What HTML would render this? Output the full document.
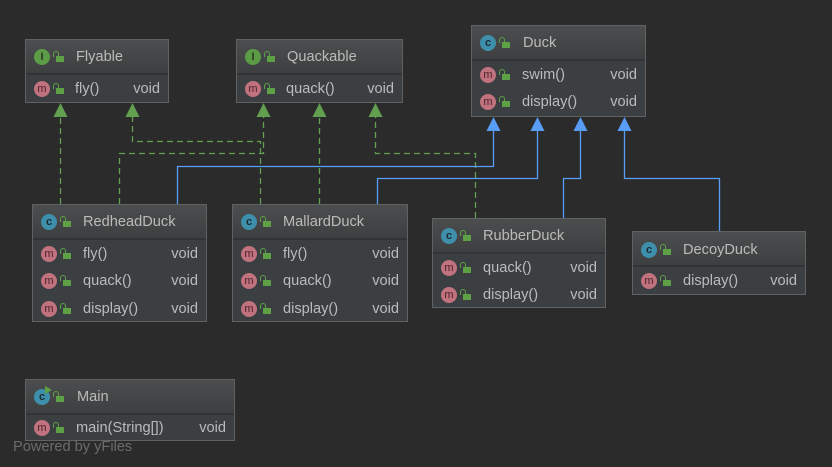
<!DOCTYPE html>
<html><head><meta charset="utf-8"><style>
body{margin:0;width:832px;height:467px;background:#2b2b2b;overflow:hidden;position:relative;font-family:"Liberation Sans","DejaVu Sans",sans-serif;}
.box{position:absolute;border:1px solid #5f6163;background:#3c3f41;box-sizing:border-box;}
.hd{height:33px;background:linear-gradient(#4b4d4e,#3e3f40);border-bottom:2px solid #313335;position:relative;}
.row{height:27px;position:relative;}
.body{padding-top:1px;}
.ic{position:absolute;width:16px;height:16px;border-radius:50%;color:#1f2b33;font-size:11px;line-height:16px;text-align:center;font-weight:bold;}
.c{background:#3e8fab;}
.i{background:#5c9c46;color:#2a3a22;}
.m{background:#c0727f;color:#4a2228;font-weight:normal;}
.lk{position:absolute;width:8px;height:6px;background:#5ea046;}
.lk:before{content:"";position:absolute;left:-3px;top:-5px;width:4px;height:5px;border:1.5px solid #5ea046;border-bottom:none;border-radius:3px 3px 0 0;}
.t{position:absolute;color:#bbbbbb;font-size:14.6px;}
.v{position:absolute;right:8px;color:#bbbbbb;font-size:14.6px;}
</style></head><body>
<svg width="832" height="467" style="position:absolute;left:0;top:0">
<g fill="none" stroke="#62a04f" stroke-width="1.3" stroke-dasharray="6,4">
<path d="M60.5 204V114"/>
<path d="M260.5 204V141.5H132.5V114"/>
<path d="M119.5 204V153.5H263.5V114"/>
<path d="M319.5 204V114"/>
<path d="M475.5 218V153.5H375.5V114"/>
</g>
<g fill="none" stroke="#589df6" stroke-width="1.3">
<path d="M177.5 204V166.5H493.5V128"/>
<path d="M377.5 204V178.5H537.5V128"/>
<path d="M563.5 218V178.5H580.5V128"/>
<path d="M719.5 232V178.5H624.5V128"/>
</g>
<g fill="#62a04f">
<path d="M60.5 103l-7 14h14z"/><path d="M132.5 103l-7 14h14z"/><path d="M263.5 103l-7 14h14z"/><path d="M319.5 103l-7 14h14z"/><path d="M375.5 103l-7 14h14z"/>
</g>
<g fill="#589df6">
<path d="M493.5 117l-7 14h14z"/><path d="M537.5 117l-7 14h14z"/><path d="M580.5 117l-7 14h14z"/><path d="M624.5 117l-7 14h14z"/>
</g>
</svg>

<div class="box" style="left:25px;top:39px;width:144px;height:64px">
<div class="hd"><div class="ic i" style="left:8px;top:9px">I</div><div class="lk" style="left:30px;top:16px"></div><div class="t" style="left:50px;top:9px">Flyable</div></div>
<div class="body"><div class="row"><div class="ic m" style="left:8px;top:5px">m</div><div class="lk" style="left:30px;top:12px"></div><div class="t" style="left:49px;top:5px">fly()</div><div class="v" style="top:5px">void</div></div></div>
</div>
<div class="box" style="left:236px;top:39px;width:167px;height:64px">
<div class="hd"><div class="ic i" style="left:8px;top:9px">I</div><div class="lk" style="left:30px;top:16px"></div><div class="t" style="left:50px;top:9px">Quackable</div></div>
<div class="body"><div class="row"><div class="ic m" style="left:8px;top:5px">m</div><div class="lk" style="left:30px;top:12px"></div><div class="t" style="left:49px;top:5px">quack()</div><div class="v" style="top:5px">void</div></div></div>
</div>
<div class="box" style="left:471px;top:25px;width:175px;height:92px">
<div class="hd"><div class="ic c" style="left:8px;top:9px">c</div><div class="lk" style="left:30px;top:16px"></div><div class="t" style="left:51px;top:9px">Duck</div></div>
<div class="body"><div class="row"><div class="ic m" style="left:8px;top:5px">m</div><div class="lk" style="left:30px;top:12px"></div><div class="t" style="left:50px;top:5px">swim()</div><div class="v" style="top:5px">void</div></div>
<div class="row"><div class="ic m" style="left:8px;top:5px">m</div><div class="lk" style="left:30px;top:12px"></div><div class="t" style="left:50px;top:5px">display()</div><div class="v" style="top:5px">void</div></div></div>
</div>
<div class="box" style="left:32px;top:204px;width:175px;height:118px">
<div class="hd"><div class="ic c" style="left:8px;top:9px">c</div><div class="lk" style="left:30px;top:16px"></div><div class="t" style="left:50px;top:9px">RedheadDuck</div></div>
<div class="body"><div class="row"><div class="ic m" style="left:8px;top:5px">m</div><div class="lk" style="left:30px;top:12px"></div><div class="t" style="left:50px;top:5px">fly()</div><div class="v" style="top:5px">void</div></div>
<div class="row"><div class="ic m" style="left:8px;top:5px">m</div><div class="lk" style="left:30px;top:12px"></div><div class="t" style="left:50px;top:5px">quack()</div><div class="v" style="top:5px">void</div></div>
<div class="row"><div class="ic m" style="left:8px;top:6px">m</div><div class="lk" style="left:30px;top:13px"></div><div class="t" style="left:50px;top:6px">display()</div><div class="v" style="top:6px">void</div></div></div>
</div>
<div class="box" style="left:232px;top:204px;width:176px;height:118px">
<div class="hd"><div class="ic c" style="left:8px;top:9px">c</div><div class="lk" style="left:30px;top:16px"></div><div class="t" style="left:50px;top:9px">MallardDuck</div></div>
<div class="body"><div class="row"><div class="ic m" style="left:8px;top:5px">m</div><div class="lk" style="left:30px;top:12px"></div><div class="t" style="left:50px;top:5px">fly()</div><div class="v" style="top:5px">void</div></div>
<div class="row"><div class="ic m" style="left:8px;top:5px">m</div><div class="lk" style="left:30px;top:12px"></div><div class="t" style="left:50px;top:5px">quack()</div><div class="v" style="top:5px">void</div></div>
<div class="row"><div class="ic m" style="left:8px;top:6px">m</div><div class="lk" style="left:30px;top:13px"></div><div class="t" style="left:50px;top:6px">display()</div><div class="v" style="top:6px">void</div></div></div>
</div>
<div class="box" style="left:432px;top:218px;width:174px;height:90px">
<div class="hd"><div class="ic c" style="left:8px;top:9px">c</div><div class="lk" style="left:30px;top:16px"></div><div class="t" style="left:50px;top:9px">RubberDuck</div></div>
<div class="body"><div class="row"><div class="ic m" style="left:8px;top:5px">m</div><div class="lk" style="left:30px;top:12px"></div><div class="t" style="left:50px;top:5px">quack()</div><div class="v" style="top:5px">void</div></div>
<div class="row"><div class="ic m" style="left:8px;top:5px">m</div><div class="lk" style="left:30px;top:12px"></div><div class="t" style="left:50px;top:5px">display()</div><div class="v" style="top:5px">void</div></div></div>
</div>
<div class="box" style="left:632px;top:231px;width:174px;height:64px">
<div class="hd"><div class="ic c" style="left:8px;top:10px">c</div><div class="lk" style="left:30px;top:17px"></div><div class="t" style="left:50px;top:10px">DecoyDuck</div></div>
<div class="body"><div class="row"><div class="ic m" style="left:8px;top:5px">m</div><div class="lk" style="left:30px;top:12px"></div><div class="t" style="left:50px;top:5px">display()</div><div class="v" style="top:5px">void</div></div></div>
</div>
<div class="box" style="left:25px;top:379px;width:210px;height:62px">
<div class="hd"><div class="ic c" style="left:8px;top:9px">c</div><div style="position:absolute;left:19px;top:6px;width:0;height:0;border-left:7px solid #5ea046;border-top:4px solid transparent;border-bottom:4px solid transparent"></div><div class="lk" style="left:30px;top:16px"></div><div class="t" style="left:51px;top:9px">Main</div></div>
<div class="body"><div class="row"><div class="ic m" style="left:8px;top:4px">m</div><div class="lk" style="left:30px;top:11px"></div><div class="t" style="left:50px;top:4px">main(String[])</div><div class="v" style="top:4px">void</div></div></div>
</div>
<div style="position:absolute;left:13px;top:439px;color:#6b6b6b;font-size:14.6px">Powered by yFiles</div>
</body></html>
